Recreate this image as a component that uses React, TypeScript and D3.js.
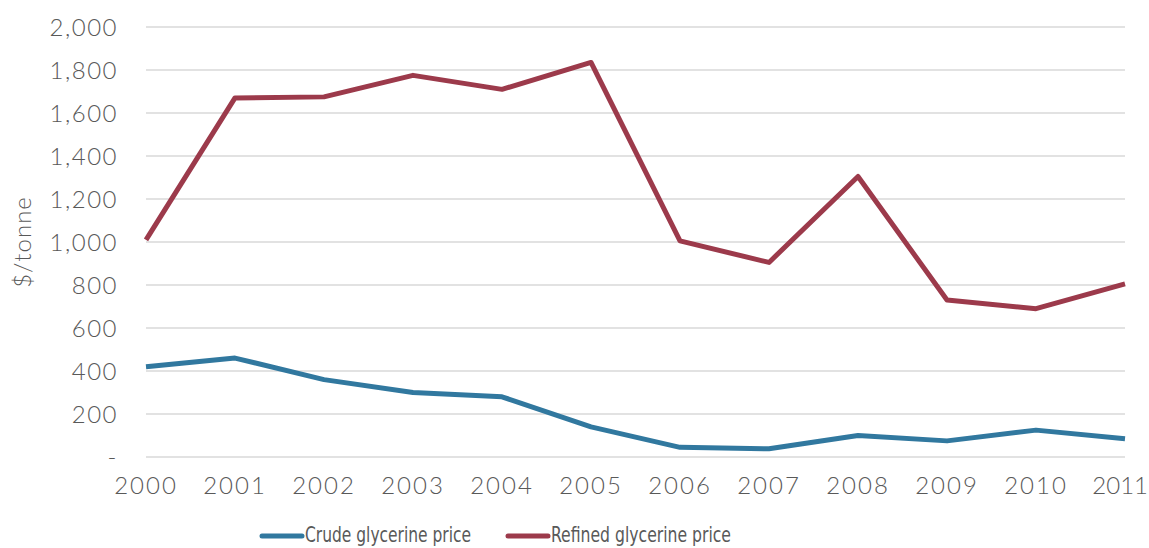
import React from "react";
import * as d3 from "d3";

const years = [2000, 2001, 2002, 2003, 2004, 2005, 2006, 2007, 2008, 2009, 2010, 2011];
const crude = [420, 460, 360, 300, 280, 140, 45, 38, 100, 75, 125, 85];
const refined = [1010, 1670, 1675, 1775, 1710, 1835, 1005, 905, 1305, 730, 690, 805];
const yTicks = [0, 200, 400, 600, 800, 1000, 1200, 1400, 1600, 1800, 2000];
const seriesNames = ["Crude glycerine price", "Refined glycerine price"];
const colors = ["#31789f", "#9c3a4b"];

export default function App() {
  const W = 1149, H = 548;
  const x = d3.scaleLinear().domain([2000, 2011]).range([146, 1125]);
  const y = d3.scaleLinear().domain([0, 2000]).range([457, 27]);
  const line = d3.line<number>().x((_, i) => x(years[i])).y((d) => y(d));
  const fmt = (v: number) => (v === 0 ? "-" : d3.format(",")(v));
  const font = "Lato, 'Open Sans', sans-serif";
  const legendX = [262, 508];
  const legendLen = [166, 180];
  return (
    <svg width={W} height={H} style={{ position: "absolute", left: 0, top: 0 }}>
      <rect width={W} height={H} fill="#fff" />
      {yTicks.map((t) => (
        <g key={t}>
          <line x1={146} x2={1125} y1={y(t)} y2={y(t)} stroke="#d9d9d9" strokeWidth={1.5} />
          <text x={118} y={y(t)} dy="0.36em" textAnchor="end" fontFamily={font} fontWeight={300} fontSize={24} fill="#595959" letterSpacing={1.5}>
            {fmt(t)}
          </text>
        </g>
      ))}
      {years.map((yr, i) => {
        const last = i === years.length - 1;
        return (
          <text key={yr} x={last ? 1148 : x(yr)} y={494} textAnchor={last ? "end" : "middle"} fontFamily={font} fontWeight={300} fontSize={24} fill="#595959" letterSpacing={last ? 0 : 2}>
            {yr}
          </text>
        );
      })}
      <text transform={`translate(31,242) rotate(-90)`} textAnchor="middle" fontFamily={font} fontWeight={300} fontSize={24} fill="#595959" letterSpacing={1}>
        $/tonne
      </text>
      {[crude, refined].map((s, i) => (
        <path key={i} d={line(s) || ""} fill="none" stroke={colors[i]} strokeWidth={5} strokeLinejoin="round" />
      ))}
      {seriesNames.map((n, i) => {
        const lx = legendX[i];
        return (
          <g key={n}>
            <line x1={lx} x2={lx + 40} y1={536} y2={536} stroke={colors[i]} strokeWidth={5} strokeLinecap="round" />
            <text x={lx + 43} y={542} fontFamily="'Liberation Sans Narrow', 'DejaVu Sans Condensed', sans-serif" fontSize={21} fill="#595959" textLength={legendLen[i]} lengthAdjust="spacingAndGlyphs">
              {n}
            </text>
          </g>
        );
      })}
    </svg>
  );
}
